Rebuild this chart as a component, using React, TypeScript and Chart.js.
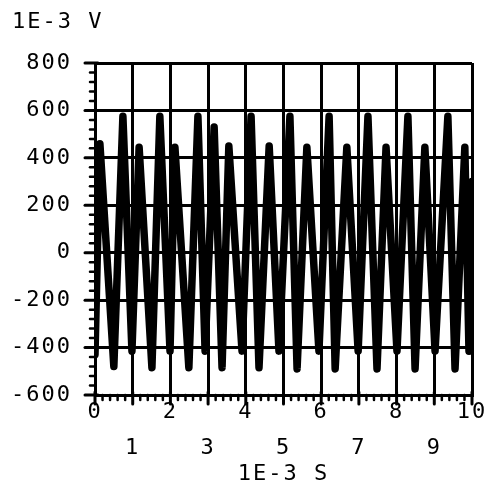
import React, { useEffect, useRef } from "react";
import { Chart, registerables } from "chart.js";

Chart.register(...registerables);

// Time in 1E-3 s (ms) of each turning point of the trace
const timeMs = [
  0.0, 0.13, 0.5, 0.74, 0.98, 1.17, 1.51, 1.72, 1.99, 2.12, 2.49, 2.73, 2.92, 3.16,
  3.37, 3.55, 3.9, 4.14, 4.35, 4.62, 4.88, 5.17, 5.36, 5.62, 5.94, 6.21, 6.37, 6.68,
  6.98, 7.24, 7.48, 7.72, 8.01, 8.3, 8.49, 8.75, 9.02, 9.36, 9.55, 9.81, 9.92, 10.0,
];
// Voltage in 1E-3 V (mV)
const voltageMv = [
  -430, 460, -480, 575, -415, 445, -485, 575, -415, 445, -485, 575, -415, 530,
  -485, 450, -415, 575, -485, 450, -415, 575, -490, 445, -415, 575, -490, 445,
  -415, 575, -490, 445, -415, 575, -490, 445, -415, 575, -490, 445, -415, 300,
];

const xMin = 0;
const xMax = 10;
const xStep = 1;
const yMin = -600;
const yMax = 800;
const yStep = 200;
const yUnitLabel = "1E-3 V";
const xUnitLabel = "1E-3 S";

const FONT = "'DejaVu Sans Mono', monospace";

export default function App() {
  const ref = useRef<HTMLCanvasElement | null>(null);

  useEffect(() => {
    document.body.style.margin = "0";
    const canvas = ref.current;
    if (!canvas) return;

    const decor = {
      id: "decor",
      beforeDraw(chart: any) {
        try {
          (chart.ctx as any).letterSpacing = "2px";
        } catch (e) {}
      },
      afterDraw(chart: any) {
        const ctx = chart.ctx as CanvasRenderingContext2D;
        const xs = chart.scales.x;
        const ys = chart.scales.y;
        const { left, bottom } = chart.chartArea;
        ctx.save();
        ctx.strokeStyle = "#000";
        ctx.lineCap = "round";
        // y ticks
        for (let v = yMin; v <= yMax + 1e-6; v += yStep / 5) {
          const py = ys.getPixelForValue(v);
          const major = Math.abs(v % yStep) < 1e-6;
          ctx.lineWidth = major ? 3 : 2.5;
          ctx.beginPath();
          ctx.moveTo(left - (major ? 10 : 5), py);
          ctx.lineTo(left + (major ? 3 : 0), py);
          ctx.stroke();
        }
        // x ticks
        for (let i = 0; i <= (xMax - xMin) * 5; i++) {
          const v = xMin + i * (xStep / 5);
          const px = xs.getPixelForValue(v);
          const major = i % 5 === 0;
          ctx.lineWidth = major ? 3 : 2.5;
          ctx.beginPath();
          ctx.moveTo(px, bottom - (major ? 3 : 0));
          ctx.lineTo(px, bottom + (major ? 9 : 5));
          ctx.stroke();
        }
        ctx.fillStyle = "#000";
        ctx.font = `22px ${FONT}`;
        ctx.textBaseline = "middle";
        ctx.textAlign = "left";
        ctx.fillText(yUnitLabel, 12, 22);
        ctx.restore();
      },
    };

    const chart = new Chart(canvas, {
      type: "line",
      data: {
        datasets: [
          {
            data: timeMs.map((t, i) => ({ x: t, y: voltageMv[i] })),
            borderColor: "#000",
            borderWidth: 7.5,
            pointRadius: 0,
            tension: 0,
            fill: false,
            borderJoinStyle: "round",
            borderCapStyle: "round",
          },
        ],
      },
      options: {
        responsive: false,
        animation: false,
        layout: { padding: { top: 63, right: 17, left: 0, bottom: 0 } },
        plugins: { legend: { display: false }, tooltip: { enabled: false } },
        scales: {
          x: {
            type: "linear",
            min: xMin,
            max: xMax,
            afterFit: (s: any) => {
              s.height = 88;
            },
            ticks: {
              stepSize: xStep,
              padding: 0,
              color: "#000",
              maxRotation: 0,
              autoSkip: false,
              font: { family: FONT, size: 22, lineHeight: 1.6 },
              callback: (v: any) => {
                const n = Number(v);
                return n % 2 === 0 ? [String(n)] : ["", String(n)];
              },
            },
            grid: { color: "#000", lineWidth: 3, drawTicks: false },
            border: { color: "#000", width: 3 },
            title: {
              display: true,
              text: xUnitLabel,
              color: "#000",
              font: { family: FONT, size: 22, lineHeight: 0.8 },
              padding: { top: 0, bottom: 0 },
            },
          },
          y: {
            min: yMin,
            max: yMax,
            afterFit: (s: any) => {
              s.width = 95;
            },
            ticks: {
              stepSize: yStep,
              padding: 23,
              color: "#000",
              font: { family: FONT, size: 22 },
            },
            grid: { color: "#000", lineWidth: 3, drawTicks: false },
            border: { color: "#000", width: 3 },
          },
        },
      },
      plugins: [decor],
    });

    return () => chart.destroy();
  }, []);

  return (
    <canvas
      ref={ref}
      width={489}
      height={483}
      style={{ display: "block", width: 489, height: 483, background: "#fff" }}
    />
  );
}
